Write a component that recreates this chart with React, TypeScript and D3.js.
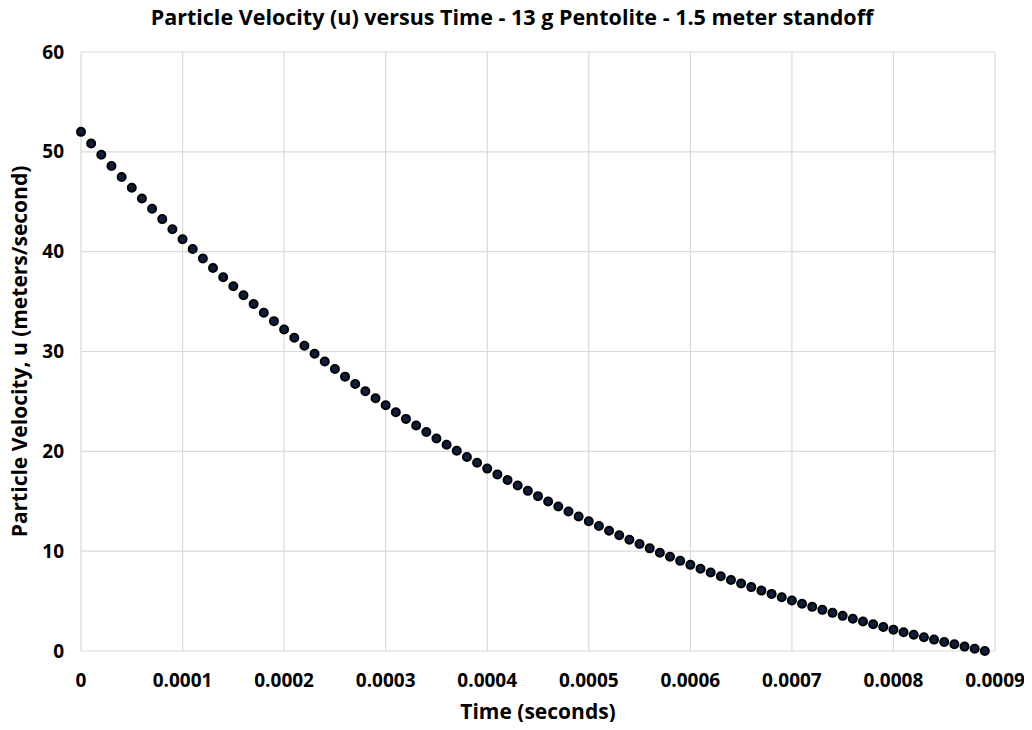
import * as d3 from 'd3'
import React, { useRef, useEffect } from 'react'

// time (seconds) of each sample
const times = [
  0, 0.00001, 0.00002, 0.00003, 0.00004, 0.00005, 0.00006, 0.00007, 0.00008, 0.00009,
  0.0001, 0.00011, 0.00012, 0.00013, 0.00014, 0.00015, 0.00016, 0.00017, 0.00018, 0.00019,
  0.0002, 0.00021, 0.00022, 0.00023, 0.00024, 0.00025, 0.00026, 0.00027, 0.00028, 0.00029,
  0.0003, 0.00031, 0.00032, 0.00033, 0.00034, 0.00035, 0.00036, 0.00037, 0.00038, 0.00039,
  0.0004, 0.00041, 0.00042, 0.00043, 0.00044, 0.00045, 0.00046, 0.00047, 0.00048, 0.00049,
  0.0005, 0.00051, 0.00052, 0.00053, 0.00054, 0.00055, 0.00056, 0.00057, 0.00058, 0.00059,
  0.0006, 0.00061, 0.00062, 0.00063, 0.00064, 0.00065, 0.00066, 0.00067, 0.00068, 0.00069,
  0.0007, 0.00071, 0.00072, 0.00073, 0.00074, 0.00075, 0.00076, 0.00077, 0.00078, 0.00079,
  0.0008, 0.00081, 0.00082, 0.00083, 0.00084, 0.00085, 0.00086, 0.00087, 0.00088, 0.00089,
]

// particle velocity u (m/s)
const velocity = [
  52.0, 50.84, 49.7, 48.58, 47.48, 46.4, 45.33, 44.29, 43.26, 42.25,
  41.25, 40.27, 39.31, 38.37, 37.44, 36.53, 35.63, 34.75, 33.89, 33.04,
  32.2, 31.38, 30.57, 29.78, 29.0, 28.24, 27.48, 26.75, 26.02, 25.31,
  24.61, 23.92, 23.25, 22.58, 21.93, 21.29, 20.66, 20.05, 19.44, 18.85,
  18.27, 17.69, 17.13, 16.58, 16.04, 15.51, 14.98, 14.47, 13.97, 13.48,
  12.99, 12.52, 12.05, 11.6, 11.15, 10.71, 10.28, 9.85, 9.44, 9.03,
  8.63, 8.24, 7.86, 7.48, 7.12, 6.76, 6.4, 6.05, 5.72, 5.38,
  5.06, 4.74, 4.42, 4.12, 3.82, 3.52, 3.23, 2.95, 2.68, 2.41,
  2.14, 1.88, 1.63, 1.38, 1.14, 0.9, 0.67, 0.44, 0.22, 0,
]

const xTicks = [0, 0.0001, 0.0002, 0.0003, 0.0004, 0.0005, 0.0006, 0.0007, 0.0008, 0.0009]
const xTickLabels = ['0', '0.0001', '0.0002', '0.0003', '0.0004', '0.0005', '0.0006', '0.0007', '0.0008', '0.0009']
const yTicks = [0, 10, 20, 30, 40, 50, 60]

const title = 'Particle Velocity (u) versus Time - 13 g Pentolite - 1.5 meter standoff'
const xTitle = 'Time (seconds)'
const yTitle = 'Particle Velocity, u (meters/second)'

const FONT = '"Liberation Sans Narrow", "Open Sans", Arial, sans-serif'

const Chart = () => {
  const ref = useRef(null)

  useEffect(() => {
    draw()
  }, [])

  const draw = () => {
    const totalWidth = 1032
    const totalHeight = 730
    const margin = { top: 52, right: 37, bottom: 79, left: 81 }
    const width = totalWidth - margin.left - margin.right
    const height = totalHeight - margin.top - margin.bottom

    const svg = d3.select(ref.current)
    svg.selectAll('*').remove()
    svg.attr('width', totalWidth).attr('height', totalHeight).style('display', 'block').style('background', '#fff')

    const xScale = d3.scaleLinear().domain([0, 0.0009]).range([0, width])
    const yScale = d3.scaleLinear().domain([0, 60]).range([height, 0])

    const g = svg.append('g').attr('transform', 'translate(' + margin.left + ',' + margin.top + ')')

    // grid
    g.selectAll('.hgrid')
      .data(yTicks)
      .enter()
      .append('line')
      .attr('x1', 0)
      .attr('x2', width)
      .attr('y1', (d) => yScale(d))
      .attr('y2', (d) => yScale(d))
      .attr('stroke', '#d9d9d9')
      .attr('stroke-width', 1.2)

    g.selectAll('.vgrid')
      .data(xTicks)
      .enter()
      .append('line')
      .attr('x1', (d) => xScale(d))
      .attr('x2', (d) => xScale(d))
      .attr('y1', 0)
      .attr('y2', height)
      .attr('stroke', '#d9d9d9')
      .attr('stroke-width', 1.2)

    // tick labels
    g.selectAll('.ylab')
      .data(yTicks)
      .enter()
      .append('text')
      .attr('x', -17)
      .attr('y', (d) => yScale(d))
      .attr('dy', '0.35em')
      .attr('text-anchor', 'end')
      .style('font-family', FONT)
      .style('font-weight', 'bold')
      .style('font-size', '19px')
      .text((d) => String(d))

    g.selectAll('.xlab')
      .data(xTicks)
      .enter()
      .append('text')
      .attr('x', (d) => xScale(d))
      .attr('y', height + 36)
      .attr('text-anchor', 'middle')
      .style('font-family', FONT)
      .style('font-weight', 'bold')
      .style('font-size', '19px')
      .text((d, i) => xTickLabels[i])

    // points
    g.selectAll('.pt')
      .data(times)
      .enter()
      .append('circle')
      .attr('cx', (d) => xScale(d))
      .attr('cy', (d, i) => yScale(velocity[i]))
      .attr('r', 4)
      .attr('fill', '#0d1f3c')
      .attr('stroke', '#000')
      .attr('stroke-width', 2)

    // titles
    svg
      .append('text')
      .attr('x', 512)
      .attr('y', 25)
      .attr('text-anchor', 'middle')
      .style('font-family', FONT)
      .style('font-weight', 'bold')
      .style('font-size', '21.5px')
      .text(title)

    svg
      .append('text')
      .attr('x', margin.left + width / 2)
      .attr('y', 719)
      .attr('text-anchor', 'middle')
      .style('font-family', FONT)
      .style('font-weight', 'bold')
      .style('font-size', '21px')
      .text(xTitle)

    svg
      .append('text')
      .attr('transform', 'translate(27,' + (margin.top + height / 2) + ') rotate(-90)')
      .attr('text-anchor', 'middle')
      .style('font-family', FONT)
      .style('font-weight', 'bold')
      .style('font-size', '21px')
      .text(yTitle)
  }

  return <svg ref={ref} />
}

export default function App() {
  return (
    <div style={{ margin: -8 }}>
      <Chart />
    </div>
  )
}
